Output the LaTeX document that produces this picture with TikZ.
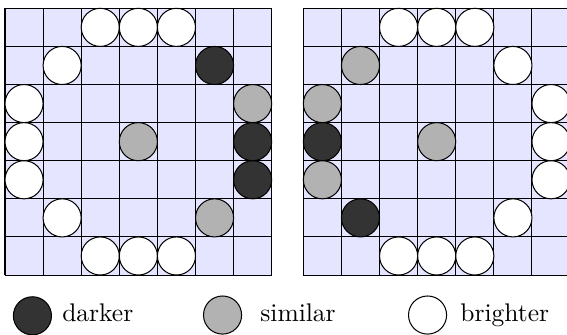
\documentclass[tikz,border=0pt]{standalone}
\usepackage{tikz}
\usetikzlibrary{positioning}
\tikzset{every picture/.append style={line width=0.4pt}}
\tikzset{
  pxgrid/.style={fill=blue!10},
  pxdot/.style={circle, draw, inner sep=0pt, minimum size=0.525cm},
  pxdark/.style={pxdot, fill=black!80},
  pxsim/.style={pxdot, fill=black!30},
  pxbright/.style={pxdot, fill=white},
  keytext/.style={anchor=base west, inner sep=0pt}
}

\begin{document}
\begin{tikzpicture}[x=0.525cm, y=0.525cm]
    \useasboundingbox (-0.131,-1.549) rectangle (14.75,7.218);
    % left patch
    \fill[pxgrid] (0,0) rectangle (7,7);
    \draw[step={(1,1)}] (0,0) grid (7,7);
    \foreach \x/\y/\s [count=\i] in {2.5/6.5/pxbright, 3.5/6.5/pxbright, 4.5/6.5/pxbright,
        1.5/5.5/pxbright, 5.5/5.5/pxdark, 0.5/4.5/pxbright, 6.5/4.5/pxsim,
        0.5/3.5/pxbright, 3.5/3.5/pxsim, 6.5/3.5/pxdark, 0.5/2.5/pxbright, 6.5/2.5/pxdark,
        1.5/1.5/pxbright, 5.5/1.5/pxsim, 2.5/0.5/pxbright, 3.5/0.5/pxbright, 4.5/0.5/pxbright}
        \node[\s] (l\i) at (\x,\y) {};
    % right patch
    \begin{scope}[shift={(7.83,0)}]
        \fill[pxgrid] (0,0) rectangle (7,7);
        \draw[step={(1,1)}] (0,0) grid (7,7);
        \foreach \x/\y/\s [count=\i] in {2.5/6.5/pxbright, 3.5/6.5/pxbright, 4.5/6.5/pxbright,
            1.5/5.5/pxsim, 5.5/5.5/pxbright, 0.5/4.5/pxsim, 6.5/4.5/pxbright,
            0.5/3.5/pxdark, 3.5/3.5/pxsim, 6.5/3.5/pxbright, 0.5/2.5/pxsim, 6.5/2.5/pxbright,
            1.5/1.5/pxdark, 5.5/1.5/pxbright, 2.5/0.5/pxbright, 3.5/0.5/pxbright, 4.5/0.5/pxbright}
            \node[\s] (r\i) at (\x,\y) {};
    \end{scope}
    % legend
    \node[pxdark] (keydark) at (0.72,-1.07) {};
    \node[keytext] (keydarktext) at (1.49,-1.23) {darker};
    \node[pxsim] (keysim) at (5.71,-1.05) {};
    \node[keytext] (keysimtext) at (6.69,-1.23) {similar};
    \node[pxbright] (keybright) at (11.09,-1.05) {};
    \node[keytext] (keybrighttext) at (11.94,-1.23) {brighter};
\end{tikzpicture}
\end{document}
